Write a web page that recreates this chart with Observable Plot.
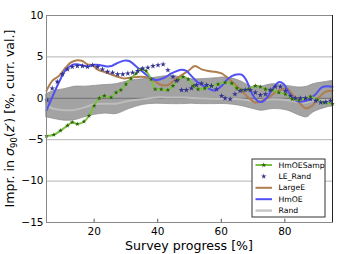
<!DOCTYPE html>
<html><head><meta charset="utf-8">
<script src="https://cdn.jsdelivr.net/npm/d3@7"></script>
<script src="https://cdn.jsdelivr.net/npm/@observablehq/plot@0.6"></script>
<style>body{margin:0;background:#fff}#c{position:relative;width:343px;height:254px}</style>
</head><body><div id="c"></div>
<script>
const xTicks = [20, 40, 60, 80];
const yTicks = [-15, -10, -5, 0, 5, 10];
const yGrid = [-10, -5, 5];

const hmoeX = [5, 7, 9, 11, 12.5, 14, 16, 18, 20, 22, 24, 25.5, 27, 29.5, 31, 33.7, 36.9, 39.5, 42.2, 44.3, 47.5, 49, 50.6, 52.7, 55.9, 58, 60.1, 62.2, 64.3, 66.4, 68, 69.6, 71.2, 72.8, 74.4, 75.9, 78.1, 79.7, 81.2, 83.3, 85.5, 87.6, 89.7, 91.8, 95];
const hmoeY = [-1.45, 0.3, 2.0, 3.4, 3.9, 4.1, 4.0, 3.85, 4.05, 4.0, 3.85, 3.9, 4.2, 4.55, 4.5, 3.7, 2.7, 2.2, 2.5, 3.0, 3.45, 3.3, 2.7, 1.9, 1.2, 0.95, 1.5, 2.4, 2.85, 2.85, 2.1, 0.6, -0.25, -0.45, 0.1, 1.0, 1.95, 1.7, 0.7, -0.25, -0.4, -0.15, 0.5, 1.35, 1.4];

const largeX = [5, 6.8, 8.9, 11, 12.6, 14.7, 16.3, 17.9, 19.5, 21, 23.1, 25.3, 27.4, 29.5, 31.6, 34.8, 36.9, 39, 41.1, 43.2, 45.3, 47.5, 49.6, 51.7, 53.8, 55.9, 58, 60.1, 62.2, 64.3, 66.4, 68.5, 70.7, 72.8, 74.9, 77, 79.1, 80.7, 82.3, 84.5, 86.5, 88.6, 90.7, 92.9, 95];
const largeY = [0.9, 2.1, 2.7, 3.7, 4.3, 4.6, 4.5, 4.1, 4.0, 3.5, 3.2, 2.9, 2.6, 2.4, 2.5, 2.6, 2.5, 2.1, 1.6, 1.6, 2.2, 2.8, 3.3, 3.9, 3.5, 3.3, 3.2, 3.0, 2.4, 1.7, 0.9, 0.1, -0.5, -0.3, 0.1, 0.7, 1.1, 1.2, 0.5, -0.5, -1.2, -0.9, 0.1, 0.8, 0.9];

const sampX = [5, 7.3, 9.4, 11.6, 13.1, 14.7, 16.8, 18.4, 20, 21.6, 23.2, 25.3, 26.9, 28.4, 30, 31.6, 33.2, 34.8, 36.3, 37.9, 39.2, 41.1, 43.2, 44.8, 46.4, 48, 49.6, 51.2, 52.7, 54.8, 56.9, 59, 61.2, 63.3, 64.9, 66.5, 68.5, 70.7, 72.3, 73.9, 76, 78.1, 80.2, 82.3, 84.5, 86.5, 88.1, 90.2, 92.3, 95];
const sampY = [-4.55, -4.4, -3.9, -3.3, -2.9, -3.1, -2.8, -2.1, -0.9, 0, 0.3, 0.1, 0.7, 1.0, 1.7, 2.4, 3.0, 3.5, 3.3, 2.3, 1.1, 1.1, 1.0, 1.5, 2.2, 2.6, 2.3, 1.5, 1.1, 1.2, 1.5, 1.7, 1.9, 1.8, 1.2, 1.0, 1.1, 1.5, 1.4, 1.1, 1.0, 0.7, 0.5, -0.1, -0.2, 0, 0.2, -0.2, -0.5, -0.65];

const leX = [5.2, 6.8, 8.4, 10, 11.6, 13.1, 14.7, 16.3, 17.9, 19.5, 21.1, 22.6, 24.2, 25.8, 27.4, 29, 30.6, 32.1, 33.7, 35.3, 36.9, 38.5, 40.1, 41.7, 43.2, 44.8, 45.9, 47.5, 49, 50.6, 52.2, 53.8, 55.4, 56.9, 58.5, 60.1, 61.2, 62.8, 64.3, 65.9, 67.5, 69.1, 70.7, 72.3, 73.9, 75.4, 77, 78.6, 80.2, 81.8, 83.3, 84.9, 86.5, 88.1, 89.7, 91.3, 92.9, 94.4];
const leY = [-0.25, 1.2, 2.0, 2.9, 3.5, 3.8, 3.9, 3.9, 3.8, 4.0, 3.8, 3.5, 3.2, 3.1, 2.9, 2.9, 3.0, 3.1, 3.3, 3.6, 3.7, 3.9, 4.0, 4.1, 3.4, 2.6, 2.1, 1.0, 1.0, 1.2, 1.6, 1.8, 1.6, 1.5, 1.1, 0.3, 0, -0.1, 0.5, 0.9, 1.0, 1.0, 0.7, 0.4, 0.5, 1.0, 1.4, 1.4, 0.9, 0.3, 0, 0, 0, -0.1, -0.3, -0.5, -0.45, -0.3];

const randX = [5, 7.5, 10.7, 13.9, 17, 20.2, 23.4, 27, 31, 35.3, 39.5, 43.7, 48, 50.6, 53.2, 57.5, 61.7, 65.9, 70.2, 72.5, 76.4, 80.6, 84.8, 87, 89, 93.3, 95];
const randHi = [0.5, 0.9, 1.1, 1.4, 1.4, 1.5, 1.6, 1.7, 2.1, 2.3, 2.5, 2.7, 2.5, 2.3, 2.3, 2.4, 2.5, 2.1, 1.3, 1.4, 1.7, 1.5, 1.3, 1.4, 1.7, 2.0, 2.1];
const randLo = [-2.3, -2.5, -2.7, -2.65, -2.3, -2.0, -1.85, -1.9, -1.3, -0.8, -0.65, -0.7, -0.7, -0.65, -0.7, -0.7, -0.7, -0.9, -1.3, -1.5, -1.3, -1.45, -2.1, -2.3, -1.7, -1.1, -1.0];
const randMean = [-0.9, -1.3, -1.45, -1.4, -1.1, -0.7, -0.65, -0.65, -0.3, -0.1, 0.1, 0.1, 0.1, 0.05, 0, -0.05, -0.05, -0.1, -0.3, -0.2, -0.1, -0.2, -0.5, -0.5, -0.3, -0.2, -0.2];

const seriesNames = ["HmOESamp", "LE_Rand", "LargeE", "HmOE", "Rand"];
const colors = {HmOESamp: "#7cc242", sampMark: "#2f5f10", LE_Rand: "#34348f", LargeE: "#b07d4f", HmOE: "#5050f5", Rand: "#c8c8c8"};

const zip = (xs, ys) => xs.map((x, i) => ({x, y: ys[i]}));
const hmoe = zip(hmoeX, hmoeY), large = zip(largeX, largeY), samp = zip(sampX, sampY), le = zip(leX, leY);
const rand = randX.map((x, i) => ({x, lo: randLo[i], hi: randHi[i], m: randMean[i]}));

const chart = Plot.plot({
  width: 343, height: 254,
  marginLeft: 46, marginRight: 11, marginTop: 15, marginBottom: 32,
  style: {fontFamily: "DejaVu Sans", fontSize: "10.5px", color: "#000", background: "#fff"},
  x: {domain: [5, 95]},
  y: {domain: [-15, 10]},
  marks: [
    Plot.ruleY(yGrid, {stroke: "#b4b4b4", strokeWidth: 1}),
    Plot.areaY(rand, {x: "x", y1: "lo", y2: "hi", fill: "#a3a3a3", stroke: "#8f8f8f", strokeWidth: 0.8, curve: "catmull-rom"}),
    Plot.ruleY([0], {stroke: "#6e6e6e", strokeWidth: 1}),
    Plot.line(rand, {x: "x", y: "m", stroke: "#bdbdbd", strokeWidth: 2, curve: "catmull-rom"}),
    Plot.line(large, {x: "x", y: "y", stroke: colors.LargeE, strokeWidth: 2, curve: "catmull-rom"}),
    Plot.line(hmoe, {x: "x", y: "y", stroke: colors.HmOE, strokeWidth: 2, curve: "catmull-rom"}),
    Plot.line(samp, {x: "x", y: "y", stroke: colors.HmOESamp, strokeWidth: 2, curve: "catmull-rom"}),
    Plot.dot(samp, {x: "x", y: "y", symbol: "star", r: 1.5, fill: colors.sampMark, stroke: null}),
    Plot.dot(le, {x: "x", y: "y", symbol: "star", r: 1.8, fill: colors.LE_Rand, stroke: null}),
    Plot.frame({stroke: "#8a8a8a", strokeWidth: 1}),
    Plot.ruleX([95], {stroke: "#222", strokeWidth: 1}),
    Plot.ruleX(xTicks, {y1: -15, y2: -14.6, stroke: "#555"}),
    Plot.axisX({ticks: xTicks, tickSize: 0, tickPadding: 5, label: null, fontSize: "10.5px"}),
    Plot.axisY({ticks: yTicks, tickSize: 0, tickPadding: 3, label: null, tickFormat: d => d < 0 ? "\u2212" + Math.abs(d) : String(d), fontSize: "10.5px"})
  ]
});
document.getElementById("c").appendChild(chart);

const svg = d3.select(chart);
const sx = chart.scale("x"), sy = chart.scale("y");
const pLeft = sx.apply(5), pRight = sx.apply(95), pTop = sy.apply(10), pBottom = sy.apply(-15);

svg.append("text").attr("x", (pLeft + pRight) / 2).attr("y", 250).attr("text-anchor", "middle")
  .attr("font-size", "12.6px").attr("font-family", "DejaVu Sans").text("Survey progress [%]");

const yl = svg.append("text").attr("transform", `translate(14,${(pTop + pBottom) / 2}) rotate(-90)`)
  .attr("text-anchor", "middle").attr("font-size", "12.6px").attr("font-family", "DejaVu Sans");
yl.append("tspan").text("Impr. in ");
yl.append("tspan").attr("font-style", "italic").text("\u03c3");
yl.append("tspan").attr("font-size", "8.5px").attr("dy", "3").text("90");
yl.append("tspan").attr("dy", "-3").text("(");
yl.append("tspan").attr("font-style", "italic").text("z\u2032");
yl.append("tspan").text(") [%, curr. val.]");

// legend
const lx = 252, ly = 159, lw = 73, lh = 58;
const g = svg.append("g").attr("text-anchor", "start");
g.append("rect").attr("x", lx).attr("y", ly).attr("width", lw).attr("height", lh)
  .attr("fill", "#fff").attr("stroke", "#333").attr("stroke-width", 1);
seriesNames.forEach((name, i) => {
  const yy = ly + 6 + i * 11.4;
  const x1 = lx + 3.5, x2 = lx + 20;
  if (name !== "LE_Rand") {
    g.append("line").attr("x1", x1).attr("x2", x2).attr("y1", yy).attr("y2", yy)
      .attr("stroke", colors[name]).attr("stroke-width", name === "Rand" ? 2.5 : 2);
  }
  if (name === "HmOESamp" || name === "LE_Rand") {
    g.append("path").attr("d", d3.symbol(d3.symbolStar, 9)()).attr("transform", `translate(${(x1 + x2) / 2},${yy})`)
      .attr("fill", name === "LE_Rand" ? colors.LE_Rand : colors.sampMark);
  }
  g.append("text").attr("x", lx + 26.5).attr("y", yy).attr("dy", "0.35em").attr("font-size", "7.7px")
    .attr("text-anchor", "start").attr("font-family", "DejaVu Sans").text(name);
});
</script></body></html>
